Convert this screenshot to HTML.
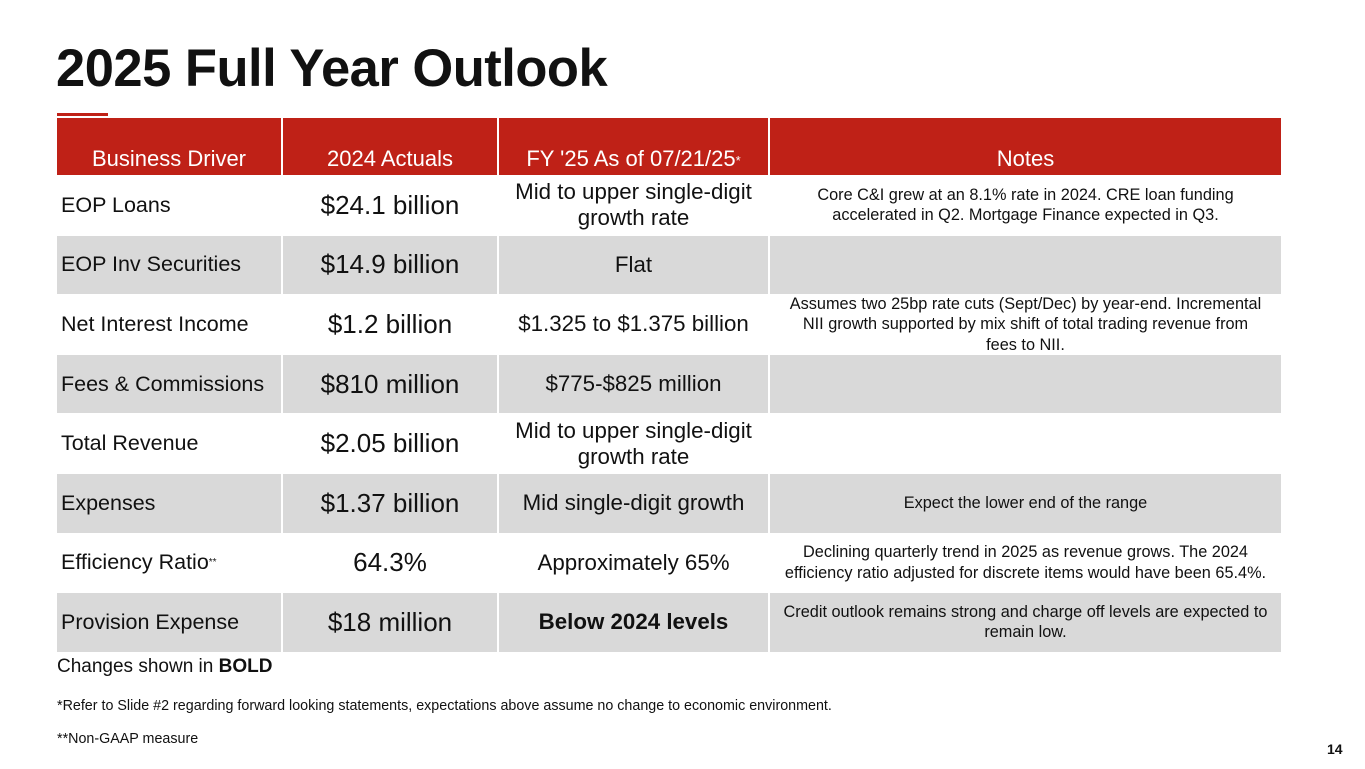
<!DOCTYPE html>
<html><head><meta charset="utf-8"><style>
body{margin:0;width:1365px;height:769px;background:#fff;font-family:"Liberation Sans",sans-serif;position:relative;overflow:hidden;color:#111}
.title{position:absolute;left:56px;top:38px;font-size:52.5px;font-weight:bold;letter-spacing:-0.5px;margin:0}
.ul{position:absolute;left:57px;top:113px;width:51px;height:3px;background:#bf2117}
.cell{position:absolute;display:flex;align-items:center;justify-content:center;text-align:center;box-sizing:border-box}
.hdr{background:#bf2117;color:#fff;font-size:22px;align-items:flex-end;padding-bottom:3px}
.c1{justify-content:flex-start;padding-left:4px;font-size:21.5px}
.c2{font-size:26px}.c3{font-size:22.3px;line-height:26px}.c4{font-size:16.3px;line-height:20.5px;padding:0 6px}
.g{background:#d9d9d9}
.ft{position:absolute;left:57px}
</style></head><body>
<h1 class="title">2025 Full Year Outlook</h1>
<div class="ul"></div>
<div id="t"></div>
<div class="ft" style="top:656px;font-size:19px">Changes shown in <b>BOLD</b></div>
<div class="ft" style="top:698px;font-size:14.3px">*Refer to Slide #2 regarding forward looking statements, expectations above assume no change to economic environment.</div>
<div class="ft" style="top:731px;font-size:14.3px">**Non-GAAP measure</div>
<div style="position:absolute;left:1327px;top:741px;font-size:14px;font-weight:bold">14</div>
<script>
const cols=[[57,224],[283,214],[499,269],[770,511]];
const heads=['Business Driver','2024 Actuals','FY \'25 As of 07/21/25<sup style="font-size:13px;position:relative;top:-4px">*</sup>','Notes'];
const rows=[
['EOP Loans','$24.1 billion','Mid to upper single-digit<br>growth rate','Core C&amp;I grew at an 8.1% rate in 2024. CRE loan funding accelerated in Q2. Mortgage Finance expected in Q3.'],
['EOP Inv Securities','$14.9 billion','Flat',''],
['Net Interest Income','$1.2 billion','$1.325 to $1.375 billion','Assumes two 25bp rate cuts (Sept/Dec) by year-end. Incremental<br>NII growth supported by mix shift of total trading revenue from<br>fees to NII.'],
['Fees &amp; Commissions','$810 million','$775-$825 million',''],
['Total Revenue','$2.05 billion','Mid to upper single-digit<br>growth rate',''],
['Expenses','$1.37 billion','Mid single-digit growth','Expect the lower end of the range'],
['Efficiency Ratio<sup style="font-size:10px">**</sup>','64.3%','Approximately 65%','Declining quarterly trend in 2025 as revenue grows. The 2024 efficiency ratio adjusted for discrete items would have been 65.4%.'],
['Provision Expense','$18 million','<b>Below 2024 levels</b>','Credit outlook remains strong and charge off levels are expected to remain low.']];
const t=document.getElementById('t');
heads.forEach((h,i)=>{const d=document.createElement('div');d.className='cell hdr';


d.style.cssText=`left:${cols[i][0]}px;top:118px;width:${cols[i][1]}px;height:57px`;d.innerHTML=h;t.appendChild(d);});
rows.forEach((r,j)=>{const y=176+j*59.6;r.forEach((v,i)=>{const d=document.createElement('div');
d.className='cell c'+(i+1)+(j%2?' g':'');


d.style.cssText=`left:${cols[i][0]}px;top:${y}px;width:${cols[i][1]}px;height:58.6px`;d.innerHTML=v;t.appendChild(d);});});
</script>
</body></html>
